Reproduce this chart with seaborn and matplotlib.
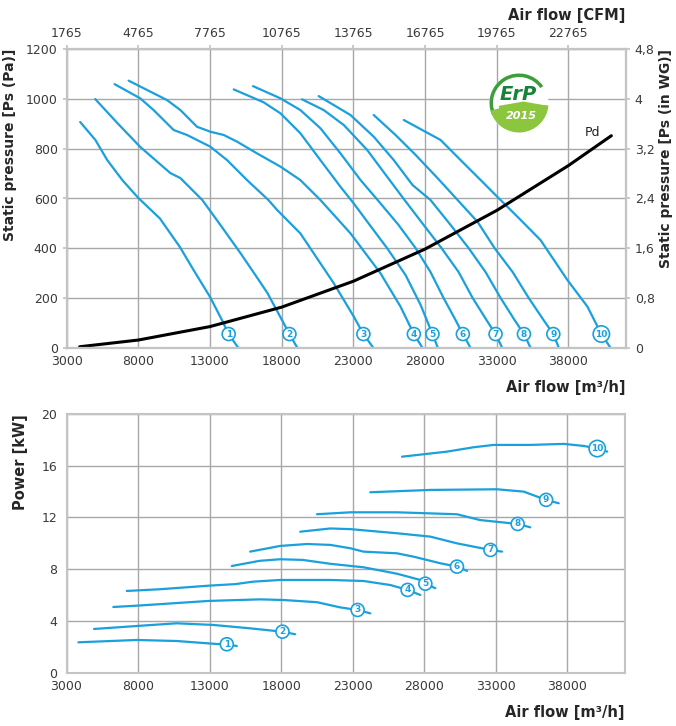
import matplotlib

matplotlib.use('Agg')
import matplotlib.pyplot as plt
import pandas as pd
import seaborn as sns
from matplotlib.patches import Circle, Wedge

BLUE = '#1AA0DC'
GRID = '#A8A8A8'
SPINE = '#C4C4C4'
TICK_TEXT = '#3A3A3A'

# axes
flow_ticks = [3000, 8000, 13000, 18000, 23000, 28000, 33000, 38000]
cfm_labels = ['1765', '4765', '7765', '10765', '13765', '16765', '19765', '22765']
pressure_ticks = [0, 200, 400, 600, 800, 1000, 1200]
wg_ticks = [0, 0.8, 1.6, 2.4, 3.2, 4.0, 4.8]
wg_labels = ['0', '0,8', '1,6', '2,4', '3,2', '4', '4,8']
power_ticks = [0, 4, 8, 12, 16, 20]

# static pressure curves [m3/h], [Pa]
ps_flow_1 = [3940, 5000, 5830, 6880, 8000, 9500, 10900, 11850, 13000, 13850, 14300, 14980]
ps_1 = [907, 835, 754, 674, 602, 520, 405, 313, 205, 110, 56, 0]
ps_flow_2 = [4990, 6530, 8130, 10230, 10930, 12460, 13720, 15120, 16160, 17000, 17910, 18540, 19100]
ps_2 = [999, 903, 807, 702, 682, 594, 494, 381, 293, 221, 124, 56, 0]
ps_flow_3 = [6340, 8130, 9060, 10460, 11390, 13020, 14190, 15580, 17070, 17680, 19300, 21630, 23030, 23700, 24400]
ps_3 = [1059, 1002, 955, 875, 855, 808, 754, 674, 594, 554, 460, 260, 126, 56, 0]
ps_flow_4 = [7320, 10000, 10930, 12090, 13020, 13950, 14890, 16280, 17910, 19300, 20700, 21750, 22800, 24890, 26290, 27220, 27830]
ps_4 = [1073, 995, 955, 888, 868, 855, 828, 781, 728, 674, 594, 527, 460, 300, 166, 56, 0]
ps_flow_5 = [14650, 16740, 17910, 19300, 20700, 22100, 23000, 24190, 25350, 26640, 27690, 28520, 28900]
ps_5 = [1038, 986, 942, 862, 754, 647, 582, 490, 401, 293, 173, 56, 0]
ps_flow_6 = [16000, 17910, 19300, 20700, 22100, 23500, 24750, 26150, 27340, 28380, 29290, 30130, 30640, 31180]
ps_6 = [1051, 1002, 955, 882, 781, 674, 590, 494, 401, 305, 201, 112, 56, 0]
ps_flow_7 = [19420, 20930, 22330, 23960, 25360, 26570, 27900, 29150, 30340, 31320, 32290, 32920, 33390]
ps_7 = [998, 955, 895, 795, 687, 594, 494, 401, 305, 201, 112, 56, 0]
ps_flow_8 = [20580, 22800, 24420, 25820, 27130, 28380, 29780, 31040, 32220, 33270, 34250, 34900, 35370]
ps_8 = [1011, 935, 848, 754, 654, 594, 494, 401, 305, 201, 112, 56, 0]
ps_flow_9 = [24420, 25940, 27340, 28870, 30270, 31670, 32850, 34110, 35230, 36270, 36950, 37340]
ps_9 = [935, 855, 775, 682, 594, 506, 401, 305, 201, 112, 56, 0]
ps_flow_10 = [26520, 29080, 30710, 31880, 33040, 34670, 36060, 37930, 39330, 40300, 40950]
ps_10 = [915, 835, 741, 674, 607, 514, 433, 273, 166, 56, 0]

# dynamic pressure
pd_flow = [3900, 8000, 13000, 18000, 23000, 28000, 33000, 38000, 41000]
pd_pa = [5, 32, 86, 164, 268, 397, 552, 732, 852]

# power curves [m3/h], [kW]
kw_flow_1 = [3830, 7900, 10700, 13500, 14200, 14900]
kw_1 = [2.35, 2.53, 2.45, 2.22, 2.2, 2.06]
kw_flow_2 = [4920, 7900, 10700, 13270, 15830, 18090, 18980]
kw_2 = [3.38, 3.61, 3.82, 3.69, 3.43, 3.17, 2.97]
kw_flow_3 = [6270, 7900, 12960, 16530, 18160, 20500, 22120, 23340, 24220]
kw_3 = [5.08, 5.18, 5.55, 5.67, 5.62, 5.45, 5.05, 4.85, 4.59]
kw_flow_4 = [7210, 9500, 12960, 14800, 16060, 17930, 21430, 23750, 25620, 26830, 27720]
kw_4 = [6.32, 6.45, 6.73, 6.85, 7.04, 7.17, 7.17, 7.09, 6.78, 6.4, 6.01]
kw_flow_5 = [14550, 16500, 17930, 19500, 21430, 23750, 26100, 27720, 28070, 28770]
kw_5 = [8.25, 8.65, 8.77, 8.72, 8.42, 8.15, 7.65, 7.17, 6.88, 6.53]
kw_flow_6 = [15830, 17930, 19800, 21430, 22830, 23750, 26090, 27250, 29120, 30280, 30990]
kw_6 = [9.36, 9.8, 9.95, 9.88, 9.62, 9.36, 9.23, 8.97, 8.46, 8.2, 7.87]
kw_flow_7 = [19330, 21430, 22830, 26090, 28420, 30280, 32620, 33430]
kw_7 = [10.9, 11.15, 11.1, 10.78, 10.52, 10.0, 9.49, 9.36]
kw_flow_8 = [20500, 22830, 26090, 30280, 31900, 34520, 35400]
kw_8 = [12.25, 12.4, 12.4, 12.25, 11.8, 11.5, 11.24]
kw_flow_9 = [24220, 28420, 33080, 34940, 36510, 37390]
kw_9 = [13.95, 14.13, 14.18, 14.0, 13.36, 13.1]
kw_flow_10 = [26440, 29580, 31450, 32840, 35410, 37740, 39140, 40080, 40780]
kw_10 = [16.7, 17.09, 17.43, 17.61, 17.61, 17.69, 17.53, 17.33, 17.09]

ps_flows = [ps_flow_1, ps_flow_2, ps_flow_3, ps_flow_4, ps_flow_5,
            ps_flow_6, ps_flow_7, ps_flow_8, ps_flow_9, ps_flow_10]
ps_values = [ps_1, ps_2, ps_3, ps_4, ps_5, ps_6, ps_7, ps_8, ps_9, ps_10]
kw_flows = [kw_flow_1, kw_flow_2, kw_flow_3, kw_flow_4, kw_flow_5,
            kw_flow_6, kw_flow_7, kw_flow_8, kw_flow_9, kw_flow_10]
kw_values = [kw_1, kw_2, kw_3, kw_4, kw_5, kw_6, kw_7, kw_8, kw_9, kw_10]


def long_table(flows, values, name):
    rows = []
    for i, (f, v) in enumerate(zip(flows, values), start=1):
        for x, y in zip(f, v):
            rows.append({'curve': i, 'flow': x, name: y})
    return pd.DataFrame(rows)


def style_axis(ax):
    ax.grid(True, color=GRID, lw=1.0)
    ax.set_axisbelow(True)
    for side in ax.spines.values():
        side.set_color(SPINE)
        side.set_linewidth(1.5)
    ax.tick_params(colors=SPINE, labelcolor=TICK_TEXT, labelsize=9, length=3)


def curve_labels(ax, flows, values):
    # numbered circle sits on the second-to-last point of each curve
    for i, (f, v) in enumerate(zip(flows, values), start=1):
        ax.text(f[-2], v[-2], str(i), color=BLUE, fontsize=6.5, fontweight='bold',
                ha='center', va='center', zorder=5,
                bbox=dict(boxstyle='circle,pad=0.22', fc='white', ec=BLUE, lw=1.2))


def draw_logo(fig):
    lax = fig.add_axes([488 / 676, 1 - 134 / 726, 62 / 676, 62 / 726])
    lax.set_xlim(-1.05, 1.05)
    lax.set_ylim(-1.05, 1.05)
    lax.set_aspect('equal')
    lax.axis('off')
    lax.add_patch(Circle((0, 0), 1.0, fc='white', ec='none'))
    lax.add_patch(Wedge((0, 0), 1.0, 35, 205, width=0.12, fc='#3E9E3A', ec='none'))
    lax.add_patch(Wedge((0, 0), 1.0, 195, 355, fc='#8CC63F', ec='none'))
    lax.add_patch(Wedge((0.15, 0.05), 0.85, 190, 350, fc='#8CC63F', ec='none'))
    lax.text(-0.02, 0.28, 'ErP', color='#17823A', fontsize=14, fontweight='bold',
             style='italic', ha='center', va='center')
    lax.text(0.08, -0.45, '2015', color='white', fontsize=8, fontweight='bold',
             style='italic', ha='center', va='center')


sns.set_theme(style='white')
plt.rcParams['font.family'] = ['DejaVu Sans']

fig = plt.figure(figsize=(6.76, 7.26), dpi=100)

# ---- static pressure chart ----
ax1 = fig.add_axes([66.7 / 676, 1 - 348 / 726, 559 / 676, 299 / 726])
ps_df = long_table(ps_flows, ps_values, 'ps')
sns.lineplot(data=ps_df, x='flow', y='ps', units='curve', estimator=None, sort=False,
             color=BLUE, lw=1.6, ax=ax1)
sns.lineplot(x=pd_flow, y=pd_pa, color='black', lw=2.2, ax=ax1)
ax1.text(pd_flow[-1] - 1300, pd_pa[-1] + 11, 'Pd', fontsize=9, color='#222222',
         ha='center', va='center')
curve_labels(ax1, ps_flows, ps_values)

ax1.set_xlim(3000, 42000)
ax1.set_ylim(0, 1200)
ax1.set_xticks(flow_ticks)
ax1.set_yticks(pressure_ticks)
style_axis(ax1)
ax1.tick_params(axis='x', length=0, pad=5)
ax1.set_xlabel('Air flow [m³/h]', fontsize=10.5, fontweight='bold', loc='right', labelpad=9)
ax1.set_ylabel('Static pressure [Ps (Pa)]', fontsize=10, fontweight='bold', loc='top', labelpad=6)

ax_top = ax1.twiny()
ax_top.set_xlim(ax1.get_xlim())
ax_top.set_xticks(flow_ticks)
ax_top.set_xticklabels(cfm_labels)
style_axis(ax_top)
ax_top.grid(False)
ax_top.set_xlabel('Air flow [CFM]', fontsize=10.5, fontweight='bold', loc='right', labelpad=5)

ax_right = ax1.twinx()
ax_right.set_ylim(0, 4.8)
ax_right.set_yticks(wg_ticks)
ax_right.set_yticklabels(wg_labels)
style_axis(ax_right)
ax_right.grid(False)
ax_right.set_ylabel('Static pressure [Ps (in WG)]', fontsize=10, fontweight='bold',
                    loc='top', labelpad=3)

draw_logo(fig)

# ---- power chart ----
ax2 = fig.add_axes([66.5 / 676, 1 - 672.7 / 726, 558.2 / 676, 258.7 / 726])
kw_df = long_table(kw_flows, kw_values, 'kw')
sns.lineplot(data=kw_df, x='flow', y='kw', units='curve', estimator=None, sort=False,
             color=BLUE, lw=1.6, ax=ax2)
curve_labels(ax2, kw_flows, kw_values)

ax2.set_xlim(3000, 42000)
ax2.set_ylim(0, 20)
ax2.set_xticks(flow_ticks)
ax2.set_yticks(power_ticks)
style_axis(ax2)
ax2.tick_params(axis='x', length=0, pad=5)
ax2.set_xlabel('Air flow [m³/h]', fontsize=10.5, fontweight='bold', loc='right', labelpad=9)
ax2.set_ylabel('Power [kW]', fontsize=10.5, fontweight='bold', loc='top', labelpad=10)

fig.savefig('out.png', dpi=100)
plt.close(fig)
